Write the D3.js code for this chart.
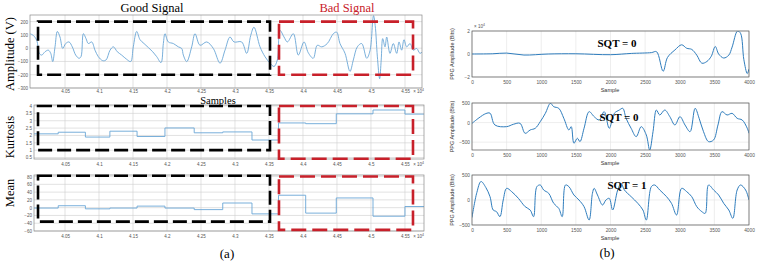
<!DOCTYPE html>
<html>
<head>
<meta charset="utf-8">
<script src="https://cdn.jsdelivr.net/npm/d3@7"></script>
<style>
body{margin:0;background:#fff}
svg{display:block}
.tick text{font-family:"Liberation Sans",Arial,sans-serif}
</style>
</head>
<body>
<svg id="fig" width="757" height="264"></svg>
<script>
// ---------- panel (a): samples are x10^4 ----------
const ampSignal = [
	[3.999,108],[4.0034,96],[4.0084,59],[4.0122,-39],[4.0157,-52],[4.0206,-27],[4.0255,-15],[4.029,-39],
	[4.0319,-101],[4.0353,10],[4.0387,126],[4.0426,84],[4.0466,-2],[4.051,35],[4.0559,47],[4.0607,10],
	[4.0657,-52],[4.0706,-76],[4.0735,-64],[4.077,109],[4.0809,72],[4.0843,35],[4.0893,47],[4.0941,-15],
	[4.099,-64],[4.1054,-94],[4.1103,-89],[4.1162,-15],[4.1211,10],[4.1269,-27],[4.1333,-52],[4.1407,-84],
	[4.1466,-101],[4.1504,10],[4.1554,126],[4.1603,64],[4.1662,35],[4.1725,5],[4.179,-27],[4.1849,-64],
	[4.1912,-109],[4.1946,35],[4.197,109],[4.2019,47],[4.2093,35],[4.2166,10],[4.2216,-2],[4.224,-52],
	[4.229,-101],[4.2363,10],[4.2412,109],[4.2485,22],[4.2584,47],[4.2681,-2],[4.278,-113],[4.2853,-15],
	[4.2926,84],[4.2985,47],[4.3098,47],[4.3172,-39],[4.3231,96],[4.3279,158],[4.3368,10],[4.3441,-64],
	[4.3515,-113],[4.3574,-138],[4.3622,-89],[4.3662,133],[4.3721,84],[4.377,47],[4.3858,109],[4.3931,-52],
	[4.4015,47],[4.4078,-35],[4.4151,-76],[4.421,22],[4.4275,10],[4.4357,35],[4.4446,109],[4.4495,121],
	[4.4544,35],[4.4618,-39],[4.4691,-175],[4.474,-89],[4.4799,10],[4.4863,35],[4.4937,-76],[4.4985,-20],
	[4.5037,245],[4.5062,170],[4.5093,-60],[4.5127,-230],[4.515,-89],[4.5172,72],[4.5206,10],[4.5231,84],
	[4.5279,-39],[4.5328,35],[4.5378,-39],[4.5412,47],[4.5451,-15],[4.5485,64],[4.5525,10],[4.5574,35],
	[4.5622,-15],[4.5672,-2],[4.572,-39],[4.577,-20]
]
// feature windows (edges) and per-window values
const winEdges = [4.0044,4.04,4.08,4.116,4.156,4.197,4.24,4.282,4.325,4.364,4.404,4.449,4.503,4.55,4.578]
const kurtVals = [2.11,2.22,1.89,2.29,1.93,2.51,2.18,2.24,1.69,2.85,2.8,3.47,3.73,3.45]
const meanVals = [-1,5,-3,-1,4,-1,-5,12,-16,32,-14,25,-22,3]

const sampleTicks = [4.05,4.1,4.15,4.2,4.25,4.3,4.35,4.4,4.45,4.5,4.55]
const ampTicks = [200,100,0,-100,-200,-300]
const kurtTicks = [4,3.5,3,2.5,2,1.5,1,0.5]
const meanTicks = [80,60,40,20,0,-20,-40,-60]

// annotation boxes [x0, x1, y0, y1] in data units
const ampBoxes = {good:[4.0103,4.3515,-200,200], bad:[4.3647,4.5618,-200,200]}
const kurtBoxes = {good:[4.0103,4.3515,1,4], bad:[4.3647,4.5618,0.42,4]}
const meanBoxes = {good:[4.0103,4.3515,-36,82], bad:[4.3647,4.5618,-57,80]}

// ---------- panel (b) ----------
const ppgTicks = [0,500,1000,1500,2000,2500,3000,3500,4000]
const ppg1 = [ // x10^4
	[0,0],[300,0.02],[500,0.08],[750,-0.09],[1100,0],[1500,0.02],[2000,-0.06],[2300,0.05],[2590,0.12],
	[2665,0.2],[2760,-1.5],[2823,-0.3],[2930,0.35],[3027,0.8],[3100,0.5],[3173,0.4],[3246,-0.1],
	[3319,-0.8],[3392,-0.65],[3455,-0.2],[3513,0.65],[3562,0],[3635,-0.35],[3708,-0.1],[3756,0.6],
	[3834,2.0],[3878,1.8],[3926,-0.5],[3975,-1.7],[4000,-1.3]
]
const ppg2 = [
	[0,-20],[100,120],[200,230],[260,240],[330,-60],[500,-104],[597,-44],[694,-19],[767,-274],[840,-189],
	[913,-146],[986,24],[1059,236],[1132,492],[1180,406],[1253,364],[1326,109],[1399,-189],[1433,-104],
	[1472,-528],[1521,-400],[1559,-486],[1618,-146],[1691,279],[1764,151],[1837,66],[1909,279],[1982,-146],
	[2055,236],[2128,321],[2177,364],[2225,109],[2298,-146],[2371,-359],[2444,-104],[2517,-317],[2566,-700],
	[2614,-232],[2663,321],[2711,194],[2784,321],[2857,151],[2930,-61],[3003,151],[3076,-61],[3149,-232],
	[3222,364],[3280,109],[3343,-232],[3416,-486],[3489,-443],[3552,-61],[3610,279],[3683,194],[3756,236],
	[3829,109],[3902,66],[3975,-146],[4000,-274]
]
const ppg3 = [
	[0,-350],[70,150],[130,370],[200,250],[260,67],[306,-200],[354,-233],[403,-333],[451,0],[500,233],
	[573,167],[670,33],[767,-133],[840,-200],[889,-333],[937,267],[986,300],[1035,200],[1108,133],[1180,-67],
	[1253,-167],[1302,-333],[1350,300],[1399,267],[1472,100],[1545,0],[1618,-133],[1691,-400],[1739,133],
	[1764,233],[1812,100],[1885,-100],[1934,0],[1982,33],[2031,-200],[2104,200],[2152,333],[2201,200],
	[2298,67],[2395,-67],[2468,-200],[2517,-400],[2590,267],[2638,300],[2711,200],[2809,67],[2881,-67],
	[2954,-300],[3027,233],[3100,167],[3173,67],[3246,-133],[3319,-233],[3367,-267],[3416,300],[3489,200],
	[3562,100],[3635,-67],[3708,-200],[3766,-367],[3829,200],[3878,300],[3951,200],[4000,0]
]
const ppgTicks1 = [2,0,-2]
const ppgTicks23 = [500,0,-500]

const svg = d3.select("#fig")
const defs = svg.append("defs")
let clipId = 0

function makeAxes(o){
	const x = d3.scaleLinear().domain(o.xDomain).range([o.left, o.right])
	const y = d3.scaleLinear().domain(o.yDomain).range([o.bottom, o.top])
	const g = svg.append("g")
	const id = "clip" + (clipId++)
	defs.append("clipPath").attr("id", id).append("rect")
		.attr("x", o.left).attr("y", o.top).attr("width", o.right - o.left).attr("height", o.bottom - o.top)

	// grid
	g.append("g").selectAll("line").data(o.xTicks).enter().append("line")
		.attr("x1", d=>x(d)).attr("x2", d=>x(d)).attr("y1", o.top).attr("y2", o.bottom)
		.attr("stroke", o.grid).attr("stroke-width", 0.6)
	g.append("g").selectAll("line").data(o.yTicks).enter().append("line")
		.attr("y1", d=>y(d)).attr("y2", d=>y(d)).attr("x1", o.left).attr("x2", o.right)
		.attr("stroke", o.grid).attr("stroke-width", 0.6)

	// axes (labels only)
	const ax = g.append("g").attr("transform", "translate(0," + o.bottom + ")")
		.call(d3.axisBottom(x).tickValues(o.xTicks).tickSize(0).tickPadding(o.xPad).tickFormat(o.xFmt))
	const ay = g.append("g").attr("transform", "translate(" + o.left + ",0)")
		.call(d3.axisLeft(y).tickValues(o.yTicks).tickSize(0).tickPadding(2).tickFormat(o.yFmt))
	ax.select(".domain").remove()
	ay.select(".domain").remove()
	g.selectAll(".tick text").attr("font-size", o.fs).attr("fill", "#555")

	const plot = g.append("g").attr("clip-path", "url(#" + id + ")")
	g.append("rect").attr("x", o.left).attr("y", o.top)
		.attr("width", o.right - o.left).attr("height", o.bottom - o.top)
		.attr("fill", "none").attr("stroke", o.border).attr("stroke-width", 0.7)
	return {x, y, g, plot}
}

function dashedBox(a, b, color, dash){
	a.g.append("rect")
		.attr("x", a.x(b[0])).attr("y", a.y(b[3]))
		.attr("width", a.x(b[1]) - a.x(b[0])).attr("height", a.y(b[2]) - a.y(b[3]))
		.attr("fill", "none").attr("stroke", color).attr("stroke-width", 2.6)
		.attr("stroke-dasharray", dash)
}

function expLabel(g, x, y, anchor){
	const t = g.append("text").attr("x", x).attr("y", y).attr("font-size", 4.5).attr("fill", "#555")
		.attr("font-family", "Liberation Sans, Arial, sans-serif").attr("text-anchor", anchor)
	t.append("tspan").text("\u00d7 10")
	t.append("tspan").attr("dy", -2).attr("font-size", 3.5).text("4")
}

function stepPoints(edges, vals){
	const pts = vals.map((v,i)=>[edges[i], v])
	pts.push([edges[edges.length-1], vals[vals.length-1]])
	return pts
}

const fmtS = d=>d3.format("")(d)
const leftCol = "#6aa6d6"
const red = "#c8202a"

// --- (a) amplitude
const A1 = makeAxes({left:30, right:422, top:15, bottom:88, xDomain:[3.9985,4.575], yDomain:[-300,250],
	xTicks:sampleTicks, yTicks:ampTicks, xFmt:fmtS, yFmt:fmtS, grid:"#cfcfcf", border:"#8a8a8a", fs:4.5, xPad:2})
A1.plot.append("path").datum(ampSignal)
	.attr("d", d3.line().x(d=>A1.x(d[0])).y(d=>A1.y(d[1])).curve(d3.curveCatmullRom))
	.attr("fill", "none").attr("stroke", leftCol).attr("stroke-width", 0.9)
dashedBox(A1, ampBoxes.good, "#000", "14,5")
dashedBox(A1, ampBoxes.bad, red, "15,6")
expLabel(svg, 424, 93, "end")

// --- (a) kurtosis
const A2 = makeAxes({left:34, right:424, top:105, bottom:159, xDomain:[4.0044,4.578], yDomain:[0.4,4.07],
	xTicks:sampleTicks, yTicks:kurtTicks, xFmt:fmtS, yFmt:fmtS, grid:"#cfcfcf", border:"#8a8a8a", fs:4.5, xPad:4})
A2.plot.append("path").datum(stepPoints(winEdges, kurtVals))
	.attr("d", d3.line().x(d=>A2.x(d[0])).y(d=>A2.y(d[1])).curve(d3.curveStepAfter))
	.attr("fill", "none").attr("stroke", leftCol).attr("stroke-width", 0.9)
dashedBox(A2, kurtBoxes.good, "#000", "14,5")
dashedBox(A2, kurtBoxes.bad, red, "15,6")
expLabel(svg, 424, 166, "end")

// --- (a) mean
const A3 = makeAxes({left:34, right:424, top:175, bottom:231, xDomain:[4.0044,4.578], yDomain:[-60,84],
	xTicks:sampleTicks, yTicks:meanTicks, xFmt:fmtS, yFmt:fmtS, grid:"#cfcfcf", border:"#8a8a8a", fs:4.5, xPad:4})
A3.plot.append("path").datum(stepPoints(winEdges, meanVals))
	.attr("d", d3.line().x(d=>A3.x(d[0])).y(d=>A3.y(d[1])).curve(d3.curveStepAfter))
	.attr("fill", "none").attr("stroke", leftCol).attr("stroke-width", 0.9)
dashedBox(A3, meanBoxes.good, "#000", "14,5")
dashedBox(A3, meanBoxes.bad, red, "15,6")
expLabel(svg, 424, 238, "end")

// --- (b) PPG
const rightCol = "#2f7dbd"
const bOpts = {left:472, right:749, xDomain:[0,4000], xTicks:ppgTicks, xFmt:fmtS, yFmt:fmtS,
	grid:"#e2e2e2", border:"#555", fs:4.8, xPad:4}
const B1 = makeAxes(Object.assign({}, bOpts, {top:31, bottom:77, yDomain:[-2,2], yTicks:ppgTicks1}))
const B2 = makeAxes(Object.assign({}, bOpts, {top:103, bottom:150, yDomain:[-700,500], yTicks:ppgTicks23}))
const B3 = makeAxes(Object.assign({}, bOpts, {top:175, bottom:225, yDomain:[-500,500], yTicks:ppgTicks23}))
;[[B1,ppg1],[B2,ppg2],[B3,ppg3]].forEach(([a,data])=>{
	a.plot.append("path").datum(data)
		.attr("d", d3.line().x(d=>a.x(d[0])).y(d=>a.y(d[1])).curve(d3.curveCatmullRom))
		.attr("fill", "none").attr("stroke", rightCol).attr("stroke-width", 1)
})
expLabel(svg, 474, 28, "start")

// ---------- text ----------
const serif = "Liberation Serif, Times New Roman, serif"
const sans = "Liberation Sans, Arial, sans-serif"
function label(x, y, txt, size, opts={}){
	const t = svg.append("text").attr("font-family", opts.family || serif).attr("font-size", size)
		.attr("text-anchor", "middle").attr("dominant-baseline", "central")
		.attr("fill", opts.fill || "#000").attr("font-weight", opts.weight || "normal")
		.attr("transform", "translate(" + x + "," + y + ")" + (opts.rot ? " rotate(-90)" : ""))
		.text(txt)
	return t
}
label(152, 8, "Good Signal", 12.5)
label(347, 8, "Bad Signal", 12.5, {fill:red})
label(218, 100.5, "Samples", 10.5)
label(10, 54, "Amplitude (V)", 12.5, {rot:true})
label(10, 137, "Kurtosis", 12.5, {rot:true})
label(10, 193, "Mean", 12.5, {rot:true})
label(227, 253, "(a)", 13)
label(607, 252, "(b)", 13)

;[B1,B2,B3].forEach(a=>{
	const r = a.y.range()
	label(452, (r[0]+r[1])/2, "PPG Amplitude (Bits)", 5.5, {rot:true, family:sans, fill:"#333"})
	label(610, r[0]+13, "Sample", 5.5, {family:sans, fill:"#333"})
})
label(617, 43, "SQT = 0", 11, {weight:"bold"})
label(619, 117, "SQT = 0", 11, {weight:"bold"})
label(627, 185, "SQT = 1", 11, {weight:"bold"})
</script>
</body>
</html>
